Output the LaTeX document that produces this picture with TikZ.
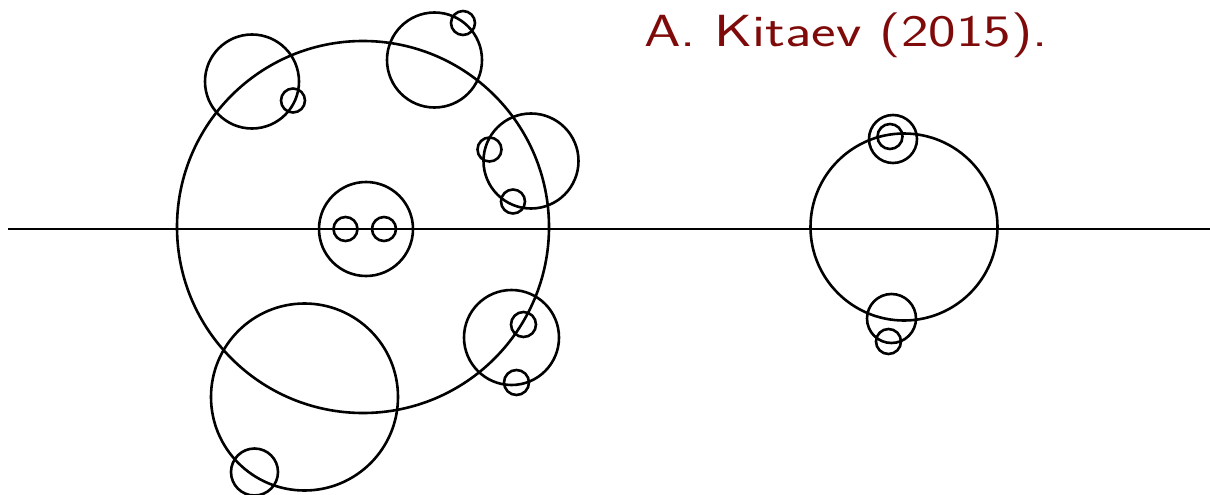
\documentclass[tikz,border=0pt]{standalone}
\usepackage{fontspec}
\definecolor{kred}{HTML}{7F0A0A}
\begin{document}
\begin{tikzpicture}[x=1pt,y=-1pt,
  ring/.style={draw=black,line width=2.6pt},
  axis/.style={draw=black,line width=2.8pt}]
\useasboundingbox (0,0) rectangle (1210,495);
% horizontal line
\coordinate (L) at (8,229);
\coordinate (R) at (1210,229);
\draw[axis] (L) -- (R);
% big left circle
\draw[ring] (363,227) circle[radius=186pt];
% top-left
\draw[ring] (252,81.5) circle[radius=47pt];
\draw[ring] (293,100.5) circle[radius=12pt];
% top
\draw[ring] (434.5,60) circle[radius=47.5pt];
\draw[ring] (463,23) circle[radius=12pt];
% right
\draw[ring] (531,161) circle[radius=47.5pt];
\draw[ring] (489.5,149.5) circle[radius=12pt];
\draw[ring] (513,201.5) circle[radius=12pt];
% middle
\draw[ring] (366,229) circle[radius=47pt];
\draw[ring] (345.5,229) circle[radius=12pt];
\draw[ring] (384,229) circle[radius=12pt];
% bottom-left
\draw[ring] (304.5,397) circle[radius=93.5pt];
\draw[ring] (254.5,472) circle[radius=23.5pt];
% bottom-right
\draw[ring] (511.5,337.5) circle[radius=47.5pt];
\draw[ring] (523.5,324.5) circle[radius=12.5pt];
\draw[ring] (516.5,382.5) circle[radius=12.5pt];
% right figure
\draw[ring] (904,227) circle[radius=93.5pt];
\draw[ring] (893,139) circle[radius=24pt];
\draw[ring] (890,136.5) circle[radius=12.5pt];
\draw[ring] (891.5,318.5) circle[radius=24.5pt];
\draw[ring] (888.5,341.5) circle[radius=12.5pt];
% text
\node[anchor=base west,inner sep=0pt,text=kred,xscale=1.3,transform shape,font=\sffamily\fontsize{45}{50}\selectfont] (title) at (644,47) {A. Kitaev (2015).};
\end{tikzpicture}
\end{document}
